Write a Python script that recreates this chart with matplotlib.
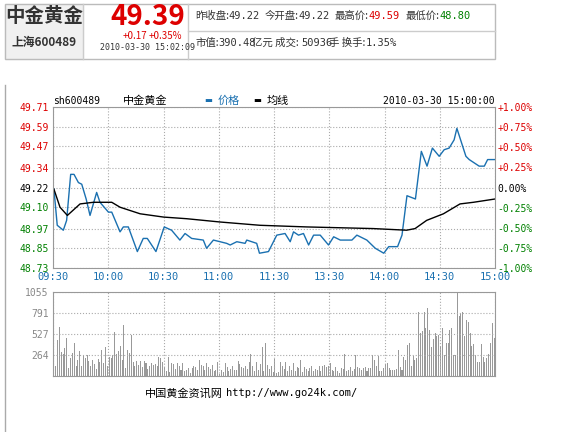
import matplotlib
matplotlib.use("Agg")
import matplotlib.pyplot as plt
from matplotlib.patches import Rectangle

plt.rcParams['font.family'] = ['Noto Sans CJK SC', 'DejaVu Sans']

# --- DATI ---
PREV_CLOSE = 49.22
price_tick_vals = [49.71, 49.59, 49.47, 49.34, 49.22, 49.10, 48.97, 48.85, 48.73]
pct_labels = ['+1.00%', '+0.75%', '+0.50%', '+0.25%', '0.00%', '-0.25%', '-0.50%', '-0.75%', '-1.00%']
time_labels = ['09:30', '10:00', '10:30', '11:00', '11:30', '13:30', '14:00', '14:30', '15:00']

# vertici prezzo (minuto, prezzo)
price_min = [0.5, 2.3, 5.6, 7.4, 9.6, 11.4, 13.8, 15.6, 18.0, 20.1, 23.7, 25.5, 30.1, 31.9,
             36.4, 38.2, 40.9, 45.8, 49.0, 51.2, 55.9, 60.4, 64.4, 68.9, 71.7, 75.3, 81.6, 83.4,
             87.1, 94.3, 96.2, 99.8, 104.3, 105.2, 110.6, 112.1, 117.0, 121.5, 126.0, 128.8, 130.6,
             133.3, 136.0, 138.8, 141.5, 145.1, 149.6, 152.4, 156.0, 162.3, 165.0, 170.4, 175.0,
             179.6, 182.3, 184.9, 187.1, 189.5, 192.2, 196.8, 200.0, 203.1, 206.0, 209.7, 212.4,
             215.1, 217.8, 219.3, 224.2, 226.0, 231.4, 234.2, 236.0, 240.0]
price_val = [49.21, 48.99, 48.96, 49.02, 49.30, 49.30, 49.25, 49.24, 49.15, 49.05, 49.19, 49.13,
             49.07, 49.07, 48.95, 48.98, 48.98, 48.83, 48.91, 48.91, 48.83, 48.98, 48.96, 48.90,
             48.94, 48.91, 48.90, 48.85, 48.90, 48.88, 48.87, 48.89, 48.88, 48.90, 48.88, 48.82,
             48.83, 48.93, 48.94, 48.89, 48.95, 48.93, 48.94, 48.87, 48.93, 48.93, 48.87, 48.92,
             48.90, 48.90, 48.93, 48.90, 48.85, 48.82, 48.86, 48.86, 48.86, 48.93, 49.17, 49.15,
             49.44, 49.35, 49.46, 49.41, 49.45, 49.46, 49.51, 49.58, 49.41, 49.39, 49.35, 49.35,
             49.39, 49.39]

avg_min = [0.5, 3.8, 7.8, 14.7, 21.9, 31.9, 36.4, 47.3, 60.0, 72.6, 90.7, 112.4, 137.7, 173.9,
           192.0, 196.6, 202.9, 212.0, 221.0, 228.3, 240.0]
avg_val = [49.21, 49.10, 49.05, 49.12, 49.13, 49.13, 49.10, 49.06, 49.04, 49.03, 49.01, 48.99,
           48.98, 48.97, 48.96, 48.97, 49.02, 49.06, 49.12, 49.13, 49.15]

volume = [
    780, 130, 450, 620, 300, 280, 350, 480, 100, 230, 290, 420, 120, 200, 310, 120, 250, 230, 270, 190,
    120, 200, 150, 90, 210, 170, 330, 160, 370, 120,
    240, 230, 270, 550, 280, 310, 380, 200, 640, 100, 330, 290, 510, 180, 120, 190, 140, 190, 110, 190,
    160, 90, 130, 160, 140, 150, 120, 240, 220, 180,
    110, 60, 240, 50, 160, 150, 90, 160, 120, 70, 160, 60, 70, 100, 40, 100, 120, 110, 80, 200,
    140, 120, 80, 160, 110, 90, 140, 60, 70, 180,
    30, 70, 50, 160, 110, 60, 90, 120, 70, 80, 190, 150, 110, 100, 130, 90, 180, 280, 130, 60,
    170, 80, 150, 360, 60, 420, 140, 90, 130, 50,
    210, 40, 50, 180, 120, 90, 180, 60, 120, 80, 160, 60, 110, 100, 200, 50, 110, 90, 60, 100,
    120, 60, 90, 80, 130, 60, 120, 140, 110, 130,
    160, 80, 60, 110, 60, 40, 100, 90, 280, 60, 70, 110, 60, 90, 270, 110, 100, 70, 100, 110,
    60, 100, 100, 260, 200, 120, 250, 60, 60, 100,
    150, 160, 100, 80, 70, 80, 90, 330, 110, 80, 240, 200, 390, 410, 120, 250, 200, 220, 800, 540,
    570, 810, 600, 850, 580, 370, 460, 540, 500, 520,
    380, 600, 260, 420, 420, 580, 600, 270, 260, 1055, 750, 780, 800, 500, 700, 680, 540, 380, 400, 260,
    180, 180, 400, 240, 180, 220, 280, 420, 660, 480,
]
vol_ticks = [264, 527, 791, 1055]

W, H = 576, 432
RED, GREEN, BLUE = '#dd0000', '#008000', '#1a70b0'
MONO = ['DejaVu Sans Mono', 'Noto Sans CJK SC']

fig = plt.figure(figsize=(5.76, 4.32), dpi=100, facecolor='white')


def ft(x, y, s, **kw):
    fig.text(x / W, 1 - y / H, s, **kw)


def frac(x0, y0, x1, y1):
    return [x0 / W, 1 - y1 / H, (x1 - x0) / W, (y1 - y0) / H]


# --- INTESTAZIONE ---
bg = fig.add_axes([0, 0, 1, 1], zorder=-1)
bg.set_xlim(0, W); bg.set_ylim(H, 0); bg.axis('off')
bg.add_patch(Rectangle((5, 4), 490, 55, fill=False, ec='#bbbbbb', lw=1))
bg.add_patch(Rectangle((5, 4), 78, 55, color='#f0f0f0', zorder=0))
bg.plot([83, 83], [4, 59], color='#cccccc', lw=1)
bg.plot([188, 188], [4, 59], color='#cccccc', lw=1)
bg.plot([188, 495], [31, 31], color='#cccccc', lw=1)
bg.plot([5, 5], [85, 432], color='#aaaaaa', lw=1)

ft(44, 17, '中金黄金', fontsize=14, fontweight='bold', color='#333333', ha='center', va='center')
ft(44, 42, '上海600489', fontsize=8.5, fontweight='bold', color='#333333', ha='center', va='center')
ft(148, 17, '49.39', fontsize=20, fontweight='bold', color=RED, ha='center', va='center')
ft(135, 36, '+0.17', fontsize=7, color=RED, ha='center', va='center')
ft(165, 36, '+0.35%', fontsize=7, color=RED, ha='center', va='center')
ft(147, 48, '2010-03-30 15:02:09', fontsize=6, color='#333333', ha='center', va='center', family=MONO)
HDR = dict(fontsize=7.5, va='center')
ft(195, 16, '昨收盘:', color='#333333', **HDR)
ft(228, 16, '49.22', color='#333333', family=MONO, **HDR)
ft(265, 16, '今开盘:', color='#333333', **HDR)
ft(298, 16, '49.22', color='#333333', family=MONO, **HDR)
ft(335, 16, '最高价:', color='#333333', **HDR)
ft(368, 16, '49.59', color=RED, family=MONO, **HDR)
ft(406, 16, '最低价:', color='#333333', **HDR)
ft(439, 16, '48.80', color=GREEN, family=MONO, **HDR)
ft(195, 43, '市值:', color='#333333', **HDR)
ft(218, 43, '390.48', color='#333333', family=MONO, **HDR)
ft(252, 43, '亿元 成交:', color='#333333', **HDR)
ft(301, 43, '50936', color='#333333', family=MONO, **HDR)
ft(329, 43, '手 换手:', color='#333333', **HDR)
ft(366, 43, '1.35%', color='#333333', family=MONO, **HDR)

# --- GRAFICO PREZZO ---
ax = fig.add_axes(frac(53, 107, 495, 268))
ax.plot(price_min, price_val, color=BLUE, lw=1)
ax.plot(avg_min, avg_val, color='black', lw=1)
ax.set_xlim(0, 240)
ax.set_ylim(price_tick_vals[-1], price_tick_vals[0])
ax.set_xticks(range(0, 241, 30))
ax.set_xticklabels(time_labels, family=MONO, fontsize=7.5, color=BLUE)
ax.set_yticks(price_tick_vals)
ax.set_yticklabels([f'{v:.2f}' for v in price_tick_vals], family=MONO, fontsize=7)
for lbl, v in zip(ax.get_yticklabels(), price_tick_vals):
    lbl.set_color(RED if v > PREV_CLOSE else ('black' if v == PREV_CLOSE else GREEN))
ax.tick_params(length=0, pad=3)
ax.grid(True, color='#aaaaaa', ls=':', lw=0.8)
for s in ax.spines.values():
    s.set_color('#999999')

ax2 = ax.twinx()
ax2.set_ylim(-1, 1)
pct_vals = [1, 0.75, 0.5, 0.25, 0, -0.25, -0.5, -0.75, -1]
ax2.set_yticks(pct_vals)
ax2.set_yticklabels(pct_labels, family=MONO, fontsize=7)
for lbl, v in zip(ax2.get_yticklabels(), pct_vals):
    lbl.set_color(RED if v > 0 else ('black' if v == 0 else GREEN))
ax2.tick_params(length=0, pad=2)
for s in ax2.spines.values():
    s.set_visible(False)

ft(53, 101, 'sh600489', fontsize=7, family=MONO, color='black', va='center')
ft(123, 101, '中金黄金', fontsize=8, color='black', va='center')
ft(204, 101, '▬', fontsize=6, color=BLUE, va='center')
ft(218, 101, '价格', fontsize=8, color=BLUE, va='center')
ft(253, 101, '▬', fontsize=6, color='black', va='center')
ft(267, 101, '均线', fontsize=8, color='black', va='center')
ft(495, 101, '2010-03-30 15:00:00', fontsize=7, family=MONO, color='black', va='center', ha='right')

# --- VOLUME ---
axv = fig.add_axes(frac(53, 292, 495, 376))
axv.bar([i + 0.5 for i in range(len(volume))], volume, width=0.55, color='#999999')
axv.set_xlim(0, 240)
axv.set_ylim(0, vol_ticks[-1])
axv.set_xticks(range(0, 241, 30))
axv.set_xticklabels([])
axv.set_yticks(vol_ticks)
axv.set_yticklabels([str(v) for v in vol_ticks], family=MONO, fontsize=7, color='#888888')
axv.tick_params(length=0, pad=3)
axv.grid(True, color='#aaaaaa', ls=':', lw=0.8)
for s in axv.spines.values():
    s.set_color('#999999')

ft(145, 393, '中国黄金资讯网', fontsize=8, color='black', va='center')
ft(226, 393, 'http://www.go24k.com/', fontsize=7.5, family=MONO, color='black', va='center')

fig.savefig('out.png', dpi=100, facecolor='white')
